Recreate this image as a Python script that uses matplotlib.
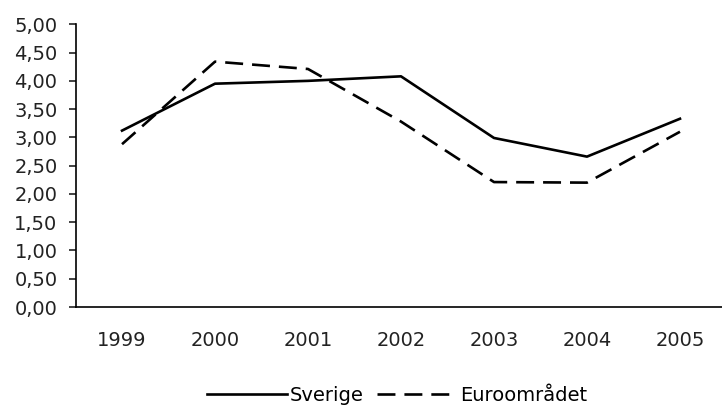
import matplotlib
matplotlib.use("Agg")
import matplotlib.pyplot as plt
from matplotlib.ticker import FuncFormatter

years = ["1999", "2000", "2001", "2002", "2003", "2004", "2005"]
sverige = [3.12, 3.95, 4.00, 4.08, 2.99, 2.66, 3.33]
euro = [2.88, 4.34, 4.21, 3.28, 2.21, 2.20, 3.10]

plt.rcParams['font.family'] = ['DejaVu Sans']

fig = plt.figure(figsize=(7.22, 4.08), dpi=100)
ax = fig.add_axes([0.1046, 0.2475, 0.9016, 0.6929])

x = range(len(years))
ax.plot(x, sverige, color='black', lw=1.9, label='Sverige')
ax.plot(x, euro, color='black', lw=1.9, dashes=(6.8, 3.4), label='Euroområdet')

ax.set_xlim(-0.5, len(years) - 0.5)
ax.set_ylim(0, 5)
ax.set_yticks([i * 0.5 for i in range(11)])
ax.yaxis.set_major_formatter(FuncFormatter(lambda v, p: f"{v:.2f}".replace(".", ",")))
ax.set_xticks(list(x))
ax.set_xticklabels(years)

for s in ['top', 'right']:
    ax.spines[s].set_visible(False)
ax.spines['left'].set_linewidth(1.2)
ax.spines['bottom'].set_linewidth(1.2)
ax.tick_params(axis='y', length=5, width=1.2, pad=8, labelsize=14, colors='#222222')
ax.tick_params(axis='x', length=0, pad=17, labelsize=14, colors='#222222')

fig.legend(loc='center', bbox_to_anchor=(0.55, 0.03), ncol=2, frameon=False,
           fontsize=14, handlelength=4.1, handletextpad=0.15, columnspacing=0.7,
           borderpad=0)

fig.savefig("out.png", dpi=100)
